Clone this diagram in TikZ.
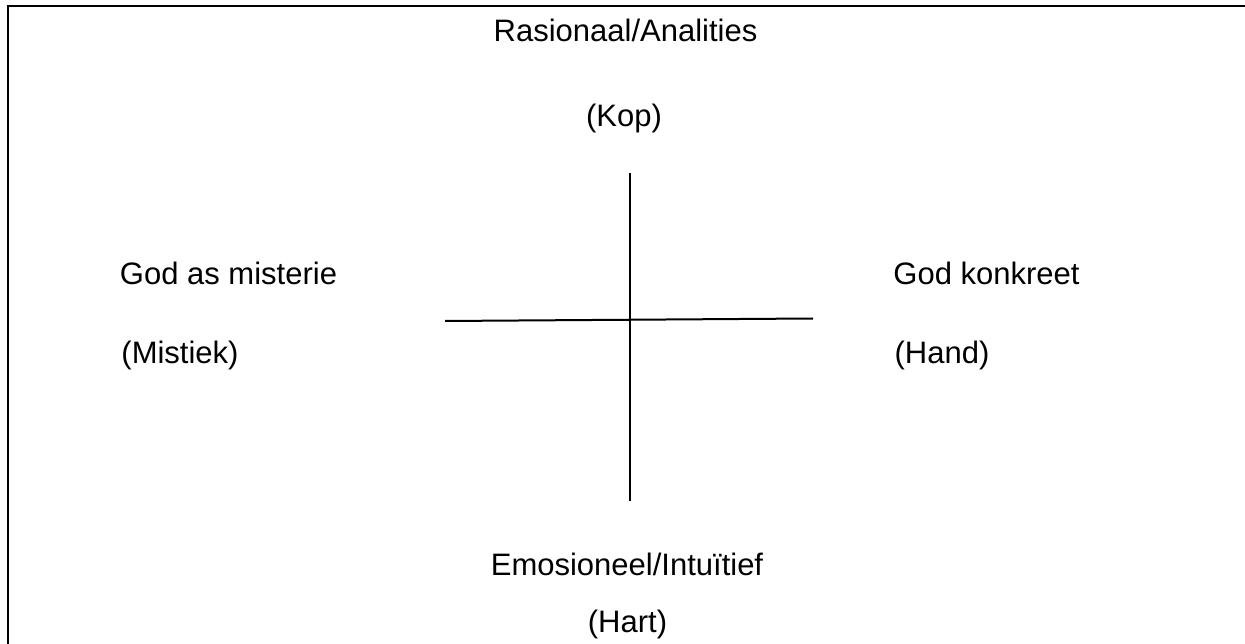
\documentclass[tikz,border=0pt]{standalone}
\usepackage{fontspec}
\setmainfont{Liberation Sans}
\begin{document}
\begin{tikzpicture}[x=1pt,y=-1pt,
  lbl/.style={anchor=base,inner sep=0pt,font=\fontsize{31}{37}\selectfont},
  rule/.style={line width=2pt,black}]
\useasboundingbox (0,0) rectangle (1245,644);
% frame (top and left edges)
\coordinate (fbl) at (8,645);
\coordinate (ftl) at (8,6);
\coordinate (ftr) at (1246,6);
\draw[rule,line cap=rect] (fbl) -- (ftl) -- (ftr);
% cross
\coordinate (vt) at (630,173);
\coordinate (vb) at (630,501);
\coordinate (hl) at (445,321);
\coordinate (hr) at (813,318.5);
\draw[rule] (vt) -- (vb);
\draw[rule] (hl) -- (hr);
% labels
\node[lbl] (rat) at (625.5,42) {Rasionaal/Analities};
\node[lbl] (kop) at (624,127) {(Kop)};
\node[lbl] (mis) at (228.5,285) {God as misterie};
\node[lbl] (mst) at (180,363) {(Mistiek)};
\node[lbl] (kon) at (986.5,285) {God konkreet};
\node[lbl] (hnd) at (942,363) {(Hand)};
\node[lbl] (emo) at (627,575) {Emosioneel/Intuïtief};
\node[lbl] (hrt) at (627.5,632) {(Hart)};
\end{tikzpicture}
\end{document}
